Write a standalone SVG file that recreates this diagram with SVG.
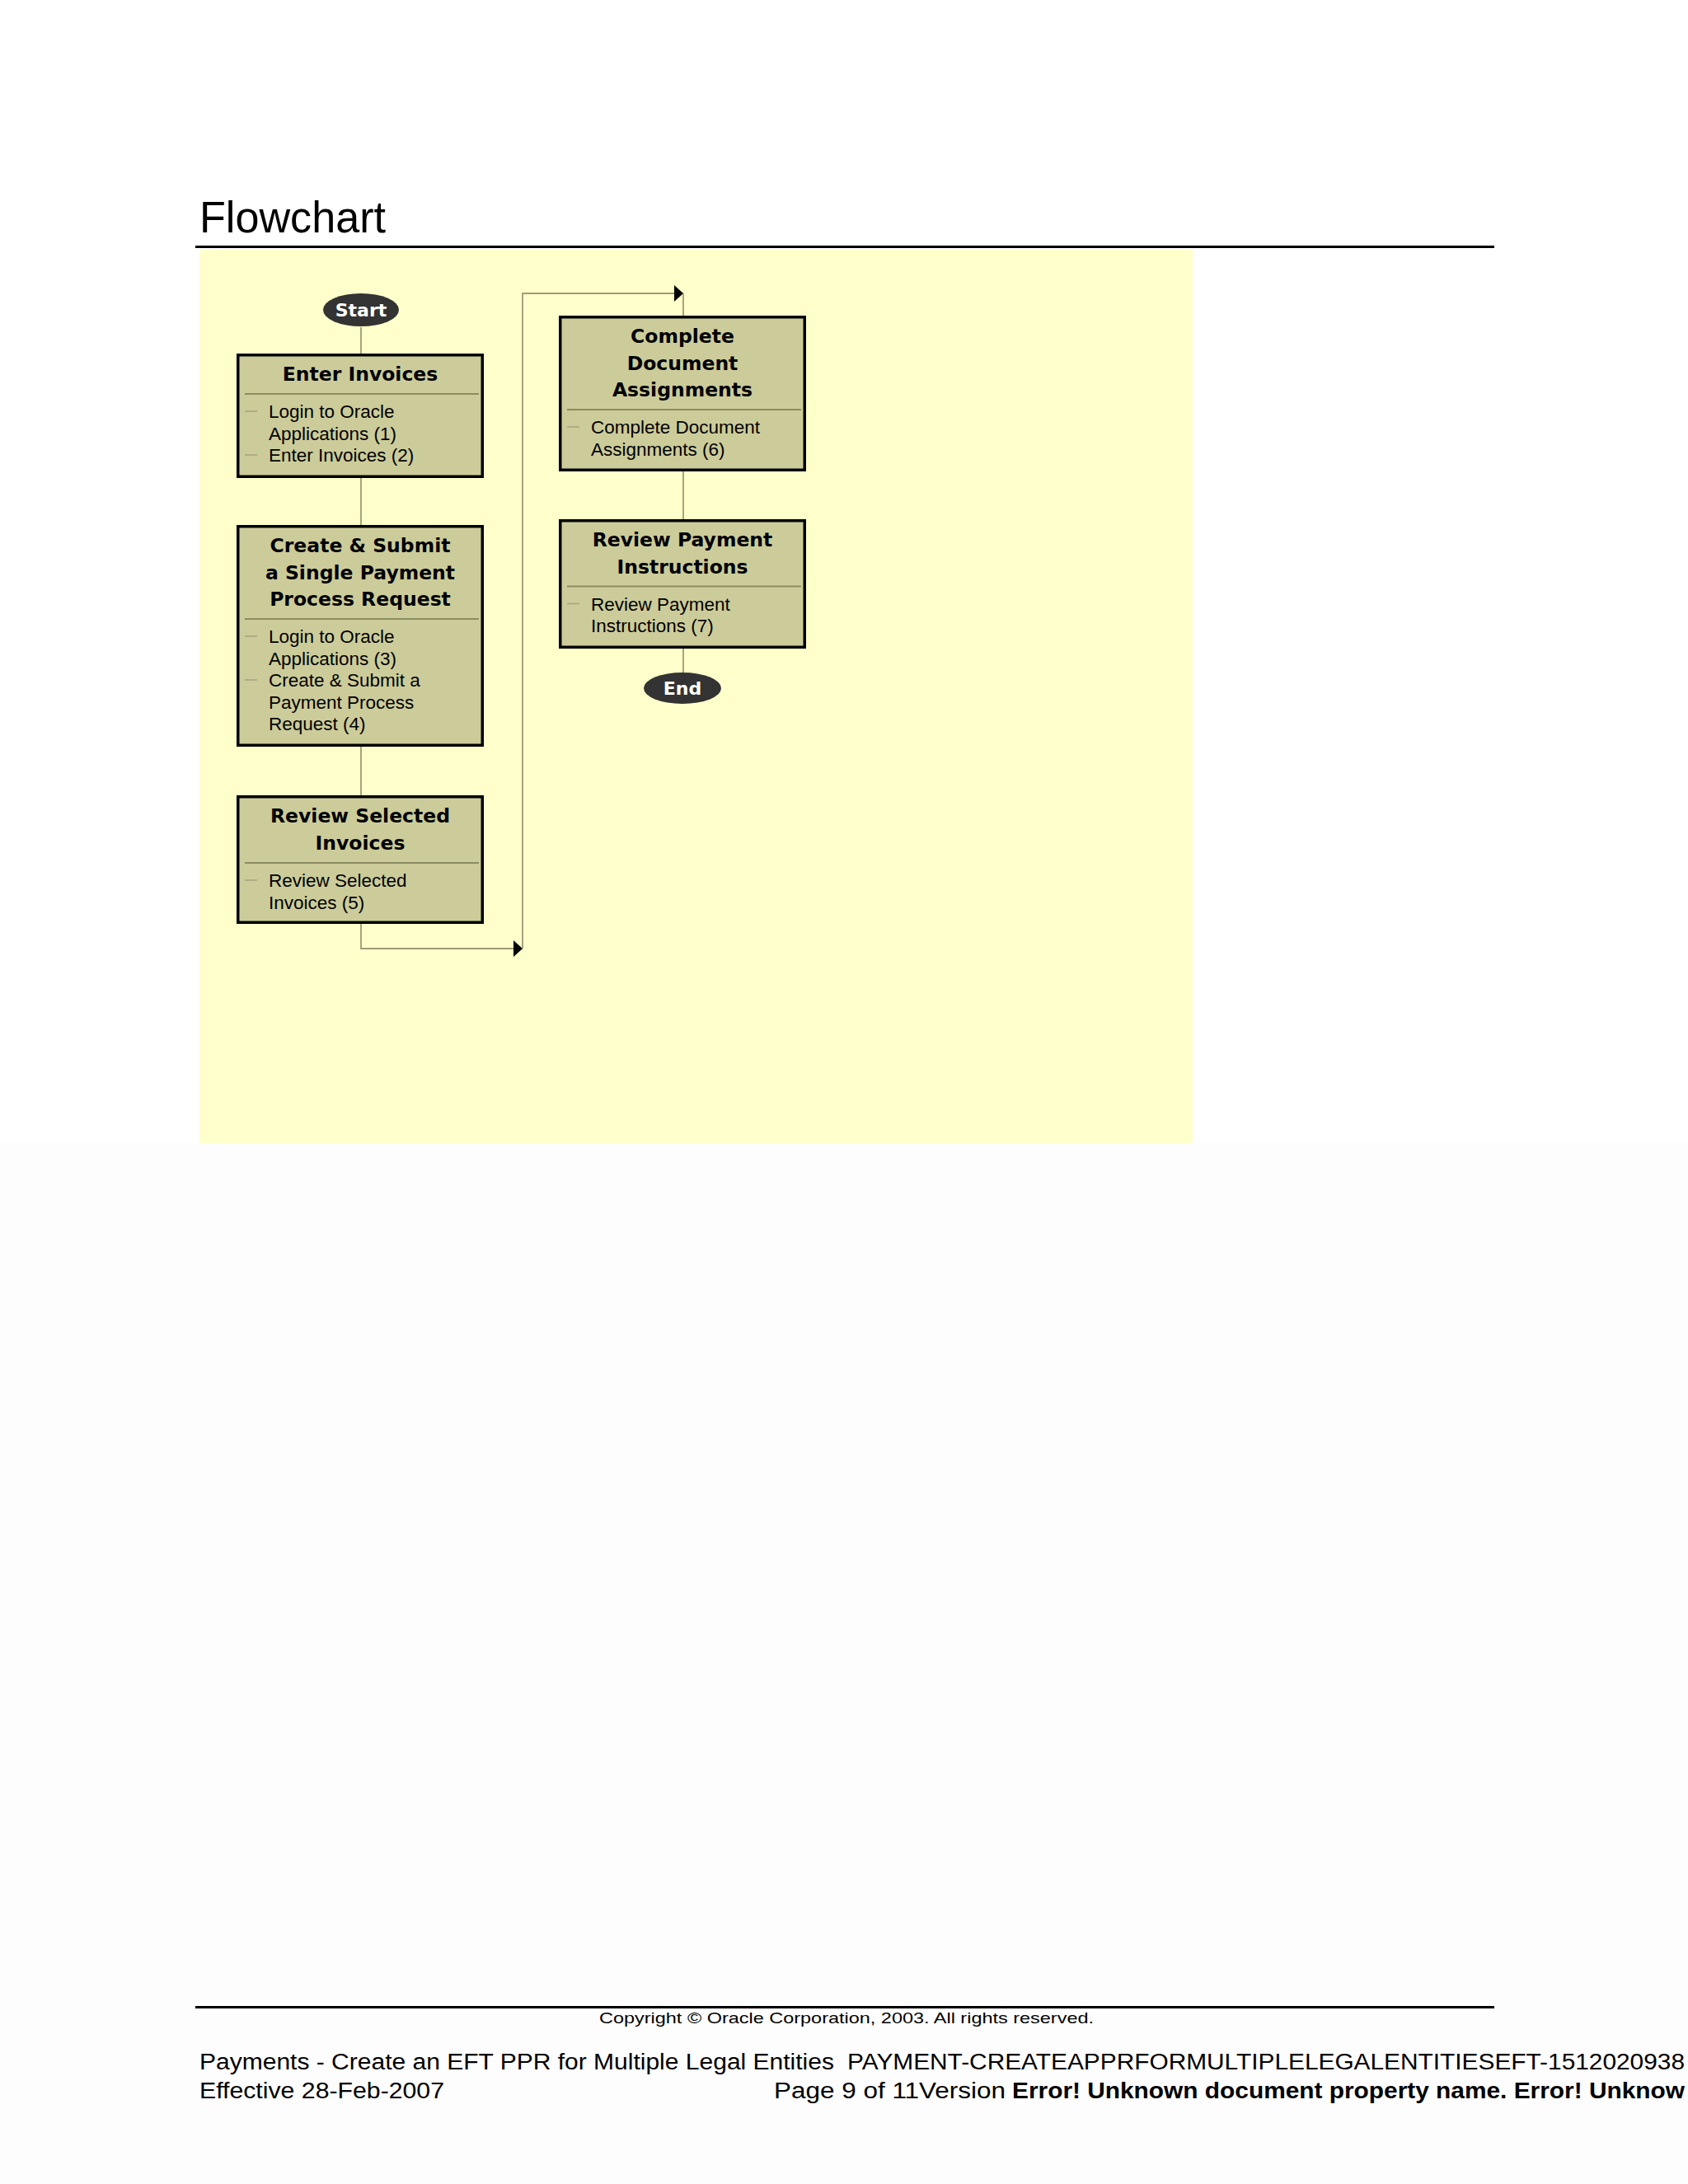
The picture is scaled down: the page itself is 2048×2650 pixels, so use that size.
<svg xmlns="http://www.w3.org/2000/svg" width="2048" height="2650" viewBox="0 0 2048 2650">
<style>
.box{fill:#CCCC9A;stroke:#000;stroke-width:3.5}
.sep{stroke:#8C8C62;stroke-width:2}
.dash{stroke:#A3A37F;stroke-width:1.5}
.ttl{font-family:"DejaVu Sans",Verdana,sans-serif;font-weight:bold;font-size:23.5px;fill:#000;text-anchor:middle}
.itm{font-family:"Liberation Sans",Arial,sans-serif;font-size:22.5px;fill:#000}
.term{fill:#333333}
.termt{font-family:"DejaVu Sans",Verdana,sans-serif;font-weight:bold;font-size:22px;fill:#fff;text-anchor:middle}
.conn{fill:none;stroke:#9C9C76;stroke-width:1.8}
.ft{font-family:"Liberation Sans",Arial,sans-serif;font-size:27px;fill:#000}
</style>
<defs>
<marker id="arr" markerUnits="userSpaceOnUse" markerWidth="12" markerHeight="22" refX="11" refY="10" orient="auto">
<path d="M0,0 L11,10 L0,20 Z" fill="#000"/>
</marker>
</defs>
<rect x="0" y="0" width="2048" height="2650" fill="#FFFFFF"/>
<rect x="0" y="1387" width="2048" height="1263" fill="#FDFDFD"/>
<text x="242" y="282" font-family="Liberation Sans,Arial,sans-serif" font-size="54" textLength="226" lengthAdjust="spacingAndGlyphs">Flowchart</text>
<rect x="237" y="298" width="1576" height="3" fill="#000"/>
<rect x="242" y="303" width="1205" height="1084" fill="#FFFFCC"/>

<g id="connectors">
<path class="conn" d="M438,397 V429"/>
<path class="conn" d="M438,580 V637"/>
<path class="conn" d="M438,906 V965"/>
<path class="conn" d="M438,1121 V1151 H634" marker-end="url(#arr)"/>
<path class="conn" d="M634,1151 V356 H829" marker-end="url(#arr)"/>
<path class="conn" d="M829,356 V383"/>
<path class="conn" d="M829,572 V630"/>
<path class="conn" d="M829,787 V816"/>
</g>

<g id="start">
<ellipse class="term" cx="438" cy="376" rx="46" ry="20"/>
<text class="termt" x="438" y="384">Start</text>
</g>

<g id="enter-invoices">
<rect class="box" x="288.75" y="430.75" width="296.5" height="147.5"/>
<text class="ttl" x="437" y="462">Enter Invoices</text>
<line class="sep" x1="297" y1="478" x2="581" y2="478"/>
<line class="dash" x1="297" y1="499" x2="312" y2="499"/>
<line class="dash" x1="297" y1="552" x2="312" y2="552"/>
<text class="itm" x="326" y="507">Login to Oracle</text>
<text class="itm" x="326" y="533.5">Applications (1)</text>
<text class="itm" x="326" y="560">Enter Invoices (2)</text>
</g>

<g id="create-submit">
<rect class="box" x="288.75" y="638.75" width="296.5" height="265.5"/>
<text class="ttl" x="437" y="670">Create &amp; Submit</text>
<text class="ttl" x="437" y="702.5">a Single Payment</text>
<text class="ttl" x="437" y="735">Process Request</text>
<line class="sep" x1="297" y1="751" x2="581" y2="751"/>
<line class="dash" x1="297" y1="772" x2="312" y2="772"/>
<line class="dash" x1="297" y1="825" x2="312" y2="825"/>
<text class="itm" x="326" y="780">Login to Oracle</text>
<text class="itm" x="326" y="806.5">Applications (3)</text>
<text class="itm" x="326" y="833">Create &amp; Submit a</text>
<text class="itm" x="326" y="859.5">Payment Process</text>
<text class="itm" x="326" y="886">Request (4)</text>
</g>

<g id="review-selected">
<rect class="box" x="288.75" y="966.75" width="296.5" height="152.5"/>
<text class="ttl" x="437" y="998">Review Selected</text>
<text class="ttl" x="437" y="1030.5">Invoices</text>
<line class="sep" x1="297" y1="1047" x2="581" y2="1047"/>
<line class="dash" x1="297" y1="1068" x2="312" y2="1068"/>
<text class="itm" x="326" y="1076">Review Selected</text>
<text class="itm" x="326" y="1102.5">Invoices (5)</text>
</g>

<g id="complete-document">
<rect class="box" x="679.75" y="384.75" width="296.5" height="185.5"/>
<text class="ttl" x="828" y="416">Complete</text>
<text class="ttl" x="828" y="448.5">Document</text>
<text class="ttl" x="828" y="481">Assignments</text>
<line class="sep" x1="688" y1="497" x2="972" y2="497"/>
<line class="dash" x1="688" y1="518" x2="703" y2="518"/>
<text class="itm" x="717" y="526">Complete Document</text>
<text class="itm" x="717" y="552.5">Assignments (6)</text>
</g>

<g id="review-payment">
<rect class="box" x="679.75" y="631.75" width="296.5" height="153.5"/>
<text class="ttl" x="828" y="663">Review Payment</text>
<text class="ttl" x="828" y="695.5">Instructions</text>
<line class="sep" x1="688" y1="711.5" x2="972" y2="711.5"/>
<line class="dash" x1="688" y1="732.5" x2="703" y2="732.5"/>
<text class="itm" x="717" y="740.5">Review Payment</text>
<text class="itm" x="717" y="767">Instructions (7)</text>
</g>

<g id="end">
<ellipse class="term" cx="828" cy="835" rx="47" ry="19"/>
<text class="termt" x="828" y="843">End</text>
</g>

<rect x="237" y="2434" width="1576" height="3" fill="#000"/>
<text x="727" y="2455" font-family="Liberation Sans,Arial,sans-serif" font-size="19" textLength="600" lengthAdjust="spacingAndGlyphs">Copyright © Oracle Corporation, 2003. All rights reserved.</text>
<text class="ft" x="242" y="2511" textLength="770" lengthAdjust="spacingAndGlyphs">Payments - Create an EFT PPR for Multiple Legal Entities</text>
<text class="ft" x="1028" y="2511" textLength="1016" lengthAdjust="spacingAndGlyphs">PAYMENT-CREATEAPPRFORMULTIPLELEGALENTITIESEFT-1512020938</text>
<text class="ft" x="242" y="2546" textLength="297" lengthAdjust="spacingAndGlyphs">Effective 28-Feb-2007</text>
<text class="ft" x="939" y="2546" textLength="281" lengthAdjust="spacingAndGlyphs">Page 9 of  11Version</text>
<text class="ft" x="1228" y="2546" font-weight="bold" textLength="816" lengthAdjust="spacingAndGlyphs">Error! Unknown document property name. Error! Unknow</text>
</svg>
